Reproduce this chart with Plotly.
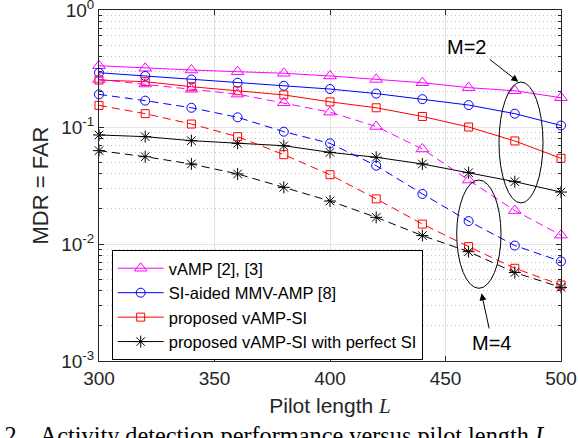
import plotly.graph_objects as go

L = [300, 320, 340, 360, 380, 400, 420, 440, 460, 480, 500]

# M = 2 (solid)
vamp_m2 = [0.334, 0.318, 0.307, 0.297, 0.288, 0.273, 0.255, 0.239, 0.217, 0.204, 0.178]
siamp_m2 = [0.291, 0.273, 0.255, 0.239, 0.225, 0.211, 0.193, 0.173, 0.154, 0.130, 0.103]
prop_m2 = [0.252, 0.244, 0.221, 0.204, 0.188, 0.164, 0.146, 0.123, 0.100, 0.076, 0.054]
perf_m2 = [0.0855, 0.0827, 0.0764, 0.0725, 0.0692, 0.0607, 0.0551, 0.0483, 0.0407, 0.0341, 0.0278]

# M = 4 (dashed)
vamp_m4 = [0.255, 0.233, 0.210, 0.191, 0.161, 0.134, 0.101, 0.0649, 0.0352, 0.0193, 0.0119]
siamp_m4 = [0.190, 0.168, 0.146, 0.121, 0.0912, 0.0725, 0.0467, 0.0268, 0.0157, 0.0097, 0.0071]
prop_m4 = [0.153, 0.130, 0.106, 0.0827, 0.058, 0.0391, 0.0243, 0.0148, 0.0095, 0.0062, 0.00446]
perf_m4 = [0.0628, 0.0557, 0.0483, 0.0397, 0.0305, 0.0233, 0.0169, 0.0118, 0.0086, 0.0057, 0.00426]

names = ["vAMP [2], [3]", "SI-aided MMV-AMP [8]", "proposed vAMP-SI",
         "proposed vAMP-SI with perfect SI"]
colors = ["#FF00FF", "#0000FF", "#FF0000", "#000000"]
symbols = ["triangle-up-open", "circle-open", "square-open", "asterisk-open"]
msizes = [11, 9, 8, 10]

x_ticks = [300, 350, 400, 450, 500]
y_ticks = [1e-3, 1e-2, 1e-1, 1]
y_ticktext = ["10<sup>-3</sup>", "10<sup>-2</sup>", "10<sup>-1</sup>", "10<sup>0</sup>"]
y_minor = [m * 10.0 ** e for e in (-3, -2, -1) for m in range(2, 10)]

fig = go.Figure()
m2 = [vamp_m2, siamp_m2, prop_m2, perf_m2]
m4 = [vamp_m4, siamp_m4, prop_m4, perf_m4]
for i in range(4):
    fig.add_trace(go.Scatter(
        x=L, y=m2[i], name=names[i], mode="lines+markers", cliponaxis=False,
        line=dict(color=colors[i], width=1),
        marker=dict(symbol=symbols[i], size=msizes[i], color=colors[i],
                    line=dict(color=colors[i], width=1))))
for i in range(4):
    fig.add_trace(go.Scatter(
        x=L, y=m4[i], name=names[i], mode="lines+markers", cliponaxis=False,
        showlegend=False,
        line=dict(color=colors[i], width=1, dash="8px,5px"),
        marker=dict(symbol=symbols[i], size=msizes[i], color=colors[i],
                    line=dict(color=colors[i], width=1))))

axis_col = "#262626"
fig.update_xaxes(
    range=[300, 500], tickvals=x_ticks, ticks="inside", ticklen=5, automargin=False,
    tickcolor=axis_col, showline=True, linecolor=axis_col, linewidth=1,
    mirror="ticks", showgrid=True, gridcolor="#e3e3e3", gridwidth=1,
    zeroline=False, tickfont=dict(family="Liberation Sans", size=19, color=axis_col),
    ticklabeloverflow="allow",
    title=dict(text="Pilot length <span style=\"font-family:'Liberation Serif'\"><i>L</i></span>",
               font=dict(family="Liberation Sans", size=21, color=axis_col), standoff=10))
fig.update_yaxes(
    type="log", range=[-3, 0], tickvals=y_ticks, ticktext=y_ticktext, automargin=False,
    ticks="inside", ticklen=5, tickcolor=axis_col, showline=True,
    linecolor=axis_col, linewidth=1, mirror="ticks", showgrid=True,
    gridcolor="#e3e3e3", gridwidth=1, zeroline=False, ticklabeloverflow="allow",
    tickfont=dict(family="Liberation Sans", size=19, color=axis_col),
    minor=dict(tickmode="array", tickvals=y_minor, ticks="inside", ticklen=3,
               tickcolor=axis_col, showgrid=True, gridcolor="#c4c4c4",
               griddash="1px,3px", gridwidth=1),
    title=dict(text="MDR = FAR", font=dict(family="Liberation Sans", size=22, color=axis_col),
               standoff=6))

def px2paper_x(p):
    return (p - 99) / 462.0

def px2paper_y(p):
    return (361 - p) / 351.0

# ellipses
fig.add_shape(type="circle", xref="paper", yref="paper",
              x0=px2paper_x(499), x1=px2paper_x(543), y0=px2paper_y(203), y1=px2paper_y(82),
              line=dict(color="black", width=1))
fig.add_shape(type="circle", xref="paper", yref="paper",
              x0=px2paper_x(456.7), x1=px2paper_x(501), y0=px2paper_y(288.3), y1=px2paper_y(180),
              line=dict(color="black", width=1))

ann_font = dict(family="Liberation Sans", size=20, color="black")
fig.add_annotation(x=px2paper_x(466.7), y=px2paper_y(46.7), xref="paper", yref="paper",
                   xanchor="center", yanchor="middle",
                   text="M=2", showarrow=False, font=ann_font)
fig.add_annotation(x=px2paper_x(491.5), y=px2paper_y(343.3), xref="paper", yref="paper",
                   xanchor="center", yanchor="middle",
                   text="M=4", showarrow=False, font=ann_font)
fig.add_annotation(x=px2paper_x(518.3), y=px2paper_y(81.7), xref="paper", yref="paper",
                   text="", showarrow=True, ax=-30, ay=-23.4, arrowhead=2,
                   arrowsize=1.4, arrowwidth=1, arrowcolor="black", standoff=0)
fig.add_annotation(x=px2paper_x(481.5), y=px2paper_y(293.3), xref="paper", yref="paper",
                   text="", showarrow=True, ax=8, ay=36.7, arrowhead=2,
                   arrowsize=1.4, arrowwidth=1, arrowcolor="black", standoff=0)

# caption (partially cut off at the bottom in the reference)
fig.add_annotation(x=px2paper_x(-42), y=px2paper_y(420), xref="paper", yref="paper",
                   xanchor="left", yanchor="top", showarrow=False,
                   text="Fig. 2.\u00a0\u00a0 Activity detection performance versus pilot length <i>L</i>.",
                   font=dict(family="Liberation Serif", size=24.3, color="black"))

fig.update_layout(
    width=578, height=438, margin=dict(l=99, r=17, t=10, b=77),
    paper_bgcolor="white", plot_bgcolor="white",
    legend=dict(x=px2paper_x(111.7), y=px2paper_y(250), xanchor="left", yanchor="top",
                bgcolor="white", bordercolor="black", borderwidth=1, itemwidth=46,
                font=dict(family="Liberation Sans", size=16.5, color="black")),
)

fig.write_html("out.html")
